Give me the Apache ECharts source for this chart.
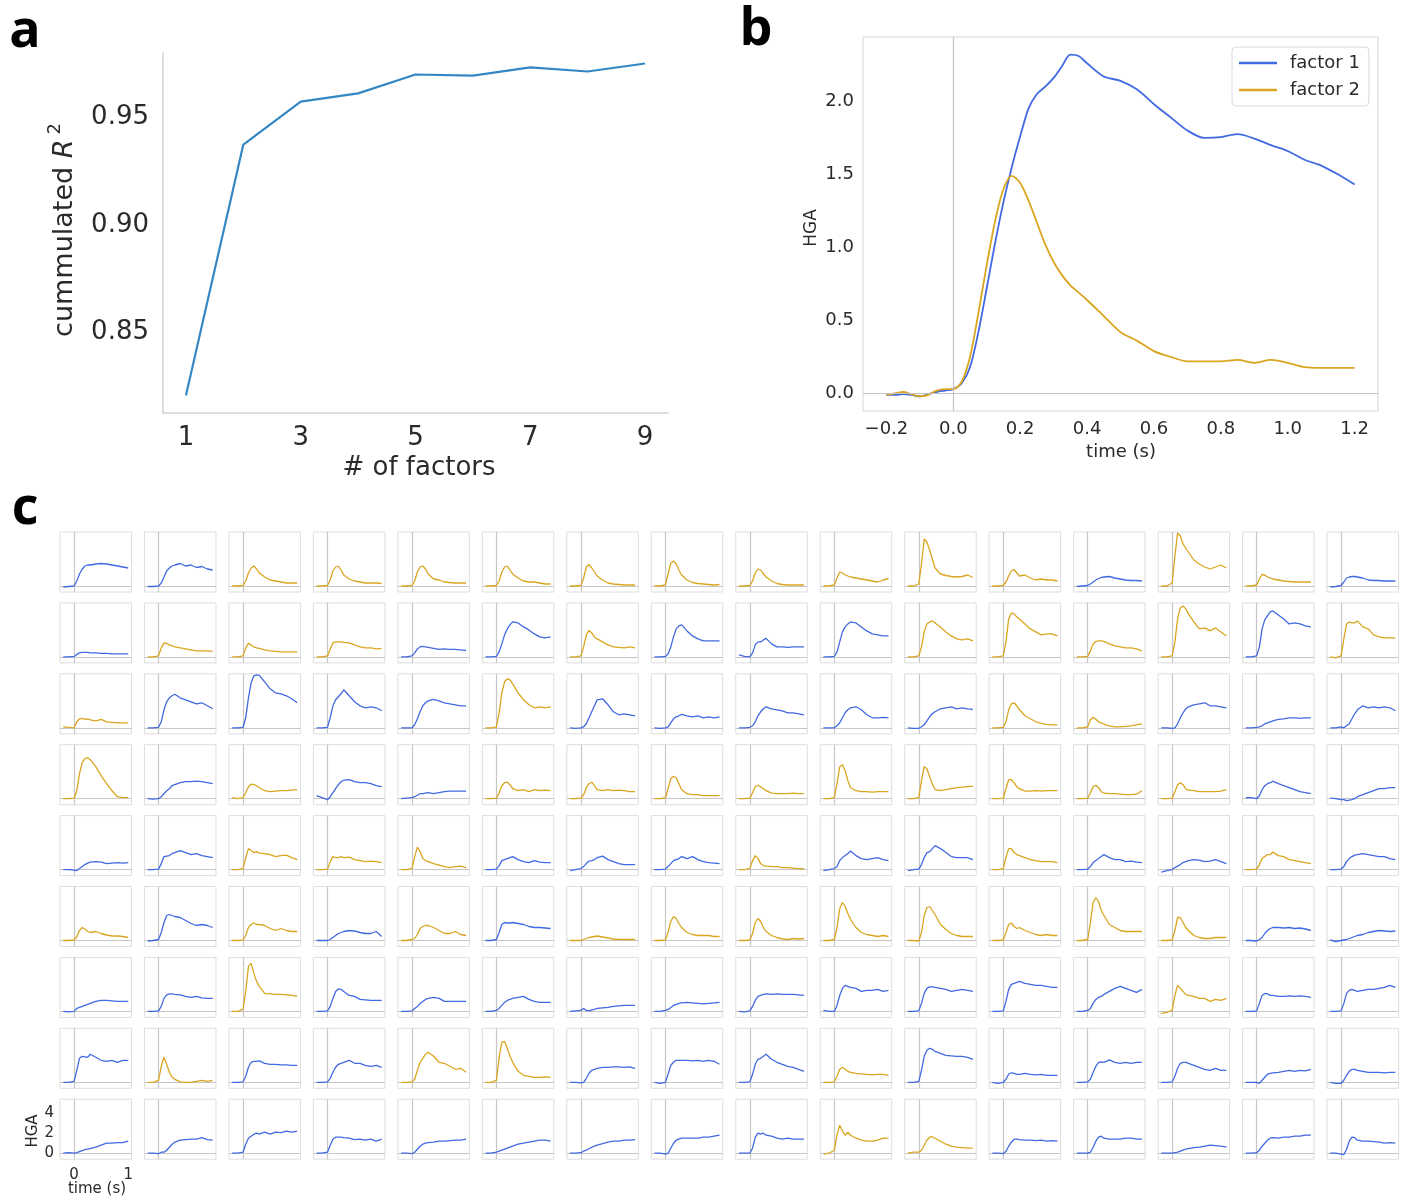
<!DOCTYPE html>
<html><head><meta charset="utf-8">
<script src="https://cdn.jsdelivr.net/npm/echarts@6/dist/echarts.min.js"></script>
<style>html,body{margin:0;padding:0;background:#fff}#c{width:1406px;height:1197px}</style>
</head><body><div id="c"></div>
<script>
// ---------- Panel a ----------
const nFactors = [1,2,3,4,5,6,7,8,9];
const cumR2 = [0.8207,0.9374,0.9574,0.9612,0.9700,0.9695,0.9733,0.9714,0.9751];
const aXTicks = [1,3,5,7,9];
const aYTicks = [0.85,0.90,0.95];

// ---------- Panel b ----------
const bTime = [-0.2,-0.175,-0.15,-0.125,-0.1,-0.075,-0.05,-0.025,0,0.025,0.05,0.075,0.1,0.125,0.15,0.175,0.2,0.225,0.25,0.275,0.3,0.325,0.35,0.375,0.4,0.45,0.5,0.55,0.6,0.65,0.7,0.75,0.8,0.85,0.9,0.95,1.0,1.05,1.1,1.15,1.2];
const factor1 = [-0.01,-0.01,-0.005,-0.01,-0.02,-0.005,0.01,0.02,0.03,0.07,0.18,0.42,0.72,1.03,1.31,1.55,1.76,1.95,2.05,2.10,2.16,2.24,2.32,2.31,2.26,2.17,2.14,2.08,1.98,1.89,1.80,1.75,1.755,1.775,1.745,1.70,1.66,1.60,1.56,1.50,1.43];
const factor2 = [-0.01,0.0,0.01,-0.005,-0.02,-0.01,0.02,0.03,0.03,0.08,0.25,0.55,0.88,1.18,1.40,1.49,1.44,1.32,1.17,1.02,0.90,0.81,0.74,0.69,0.64,0.53,0.42,0.36,0.29,0.25,0.22,0.22,0.22,0.23,0.21,0.23,0.21,0.18,0.175,0.175,0.175];
const bXTicks = [-0.2,0,0.2,0.4,0.6,0.8,1.0,1.2];
const bYTicks = [0,0.5,1.0,1.5,2.0];

// ---------- Panel c (9 rows x 16 electrodes) ----------
const cTime = [-0.2,-0.1,0,0.05,0.1,0.15,0.2,0.25,0.3,0.4,0.5,0.6,0.7,0.8,0.9,1.0];
const cXTicks = [0,1];
const cYTicks = [0,2,4];

const row1Colors = "b b o o o o o o o o o o b o o b";
const row1 = [
[-0.1,-0.05,0.0,0.5,1.2,1.7,2.0,2.1,2.1,2.2,2.25,2.2,2.1,2.0,1.9,1.8],
[-0.05,-0.05,0.0,0.3,0.9,1.5,1.8,2.0,2.1,2.25,2.0,2.1,1.85,1.95,1.7,1.6],
[0,0,0.05,0.5,1.3,1.8,2.0,1.7,1.3,0.9,0.6,0.5,0.4,0.3,0.3,0.3],
[0,0,0.05,0.6,1.5,1.9,2.0,1.6,1.1,0.7,0.5,0.4,0.3,0.3,0.3,0.25],
[0,0,0.05,0.5,1.4,1.9,2.0,1.7,1.2,0.7,0.6,0.4,0.35,0.3,0.3,0.3],
[0,0,0.05,0.5,1.4,1.9,2.0,1.6,1.2,0.8,0.5,0.4,0.4,0.3,0.2,0.2],
[0,0,0.05,0.8,1.9,2.15,1.8,1.4,1.0,0.6,0.3,0.2,0.15,0.1,0.1,0.1],
[0,0,0.1,1.2,2.3,2.5,2.2,1.6,1.1,0.6,0.35,0.25,0.2,0.15,0.1,0.15],
[0,0,0.05,0.5,1.3,1.7,1.6,1.2,0.9,0.5,0.25,0.15,0.1,0.1,0.1,0.1],
[0,0,0.1,0.8,1.4,1.3,1.1,1.0,0.9,0.8,0.7,0.6,0.5,0.4,0.6,0.75],
[0,0,0.2,2.2,4.7,4.4,3.6,2.7,1.8,1.2,1.05,0.95,0.9,0.95,1.1,0.85],
[0,0,0.05,0.4,1.0,1.5,1.65,1.3,1.0,1.1,0.8,0.6,0.7,0.6,0.6,0.5],
[-0.05,0,0.05,0.2,0.4,0.6,0.75,0.85,0.9,0.95,0.8,0.7,0.6,0.55,0.55,0.5],
[0,0,0.3,3.0,5.3,5.0,4.2,3.8,3.4,2.6,2.2,1.9,1.7,1.9,2.1,1.8],
[0,0,0.1,0.7,1.15,1.1,0.9,0.8,0.7,0.6,0.5,0.45,0.4,0.4,0.4,0.4],
[-0.1,-0.05,0.05,0.4,0.8,0.9,0.95,0.95,0.9,0.8,0.6,0.55,0.55,0.5,0.5,0.5]
];
const row2Colors = "b o o o b b o b b b o o o o b o";
const row2 = [
[0,0,0.05,0.25,0.4,0.45,0.45,0.45,0.4,0.4,0.35,0.35,0.3,0.3,0.3,0.3],
[0,0,0.1,0.9,1.4,1.35,1.2,1.1,1.0,0.9,0.8,0.7,0.6,0.6,0.6,0.55],
[0,0,0.1,0.9,1.35,1.2,1.0,0.9,0.85,0.7,0.6,0.55,0.5,0.5,0.5,0.5],
[0,0,0.1,0.8,1.4,1.5,1.5,1.5,1.45,1.4,1.2,1.0,0.9,0.9,0.8,0.85],
[0,0,0.1,0.4,0.8,1.0,1.05,1.0,0.95,0.85,0.75,0.8,0.75,0.75,0.7,0.65],
[0,0,0.05,0.5,1.3,2.2,2.8,3.2,3.5,3.4,3.0,2.7,2.3,2.0,1.9,2.0],
[0,0,0.1,1.0,2.2,2.65,2.4,2.0,1.8,1.5,1.2,1.0,0.95,0.9,1.0,0.9],
[0,0,0.05,0.3,1.0,2.0,2.8,3.1,3.2,2.6,2.1,1.8,1.6,1.6,1.6,1.6],
[0.2,0.05,0.0,0.4,1.2,1.5,1.5,1.7,1.85,1.3,1.0,1.0,0.95,1.0,1.0,1.0],
[0,0,0.05,0.5,1.5,2.5,3.0,3.3,3.5,3.4,3.0,2.6,2.3,2.2,2.1,2.1],
[0,0,0.1,1.0,2.5,3.3,3.5,3.6,3.4,3.0,2.5,2.1,1.8,1.7,1.8,1.6],
[0,0,0.1,1.5,3.8,4.4,4.3,4.0,3.8,3.3,2.8,2.5,2.2,2.3,2.3,2.1],
[0,0,0.05,0.6,1.3,1.55,1.6,1.6,1.55,1.3,1.1,1.0,0.9,0.9,0.8,0.6],
[0,0,0.1,1.5,3.8,4.9,5.1,4.8,4.3,3.5,2.8,2.9,2.6,2.9,2.5,2.1],
[0,0,0.1,1.0,2.8,3.7,4.1,4.5,4.6,4.2,3.8,3.3,3.4,3.3,3.1,3.0],
[0,-0.1,0.1,1.8,3.3,3.5,3.4,3.4,3.6,3.0,2.8,2.2,2.0,1.9,1.9,1.9]
];
const row3Colors = "o b b b b o b b b b b o o b b b";
const row3 = [
[0.1,0.05,0.0,0.6,0.9,0.95,0.85,0.9,0.8,0.7,0.85,0.6,0.55,0.5,0.5,0.5],
[0,0,0.05,0.6,1.8,2.6,3.0,3.2,3.35,3.0,2.8,2.6,2.4,2.5,2.2,1.9],
[0,0,0.05,1.0,3.0,4.5,5.2,5.3,5.25,4.6,3.9,3.5,3.4,3.2,2.9,2.5],
[0,0,0.05,1.0,2.2,2.8,3.1,3.4,3.8,3.2,2.6,2.2,2.0,2.1,2.0,1.7],
[0,0,0.0,0.3,0.9,1.6,2.2,2.5,2.7,2.85,2.7,2.5,2.4,2.3,2.2,2.2],
[0,0,0.1,1.5,3.5,4.6,4.9,4.8,4.4,3.5,2.8,2.3,2.0,2.1,2.0,2.1],
[0,-0.05,0.0,0.1,0.4,1.0,1.6,2.2,2.8,2.9,2.3,1.6,1.3,1.4,1.3,1.2],
[0,-0.05,0.0,0.1,0.5,0.9,1.1,1.2,1.35,1.2,1.1,1.2,1.0,1.1,1.0,1.1],
[0,0,0.05,0.2,0.6,1.2,1.6,1.9,2.1,1.9,1.8,1.7,1.5,1.5,1.4,1.3],
[0,0,0.0,0.2,0.5,1.0,1.5,1.8,2.0,2.1,1.8,1.3,1.0,1.0,1.05,1.0],
[0,-0.05,-0.05,0.1,0.3,0.7,1.1,1.4,1.6,1.9,2.0,2.1,1.9,2.0,1.9,1.85],
[0,0,0.05,0.6,1.8,2.4,2.5,2.2,1.8,1.2,0.9,0.6,0.45,0.35,0.3,0.3],
[0,0,0.1,0.8,1.05,0.85,0.6,0.5,0.35,0.2,0.1,0.1,0.15,0.2,0.3,0.4],
[0,0,-0.05,0.0,0.4,1.0,1.5,1.9,2.1,2.3,2.4,2.5,2.2,2.2,2.1,2.0],
[0,0,0.05,0.1,0.2,0.4,0.5,0.6,0.7,0.85,0.9,1.0,1.0,0.95,1.0,1.0],
[0,0,0.1,0.0,0.2,0.4,0.9,1.4,1.8,2.2,2.0,2.1,2.0,2.1,2.0,1.7]
];
const row4Colors = "o b o b b o o o o o o o o o b b";
const row4 = [
[0,0,0.05,0.8,2.5,3.6,4.0,4.1,3.9,3.2,2.3,1.5,0.8,0.2,0.1,0.1],
[0,-0.05,0.0,0.2,0.5,0.8,1.0,1.3,1.4,1.6,1.7,1.7,1.75,1.7,1.6,1.5],
[0.1,0.0,0.1,0.6,1.2,1.45,1.4,1.3,1.1,0.8,0.7,0.75,0.8,0.8,0.85,0.9],
[0.3,0.1,-0.1,0.2,0.6,1.0,1.4,1.7,1.85,1.9,1.7,1.6,1.6,1.5,1.3,1.2],
[0,0.05,0.1,0.2,0.35,0.5,0.5,0.55,0.6,0.5,0.6,0.7,0.75,0.75,0.75,0.75],
[0,0,0.05,0.6,1.3,1.6,1.65,1.4,1.0,0.8,0.9,0.7,0.9,0.8,0.85,0.8],
[0,0,0.05,0.4,1.1,1.5,1.65,1.3,0.9,0.8,0.9,0.8,0.85,0.8,0.7,0.7],
[0,0,0.1,1.0,2.0,2.25,2.1,1.5,0.9,0.5,0.4,0.4,0.3,0.3,0.3,0.3],
[0,0,0.05,0.6,1.2,1.35,1.2,1.0,0.8,0.55,0.5,0.5,0.5,0.55,0.5,0.5],
[0,0,0.1,1.5,3.2,3.4,2.8,1.8,1.1,0.8,0.7,0.7,0.65,0.7,0.7,0.7],
[0,0,0.1,1.8,3.2,3.0,2.2,1.5,0.9,0.8,0.9,1.0,1.1,1.15,1.2,1.25],
[0,0,0.05,1.0,1.9,1.9,1.6,1.2,1.0,0.75,0.75,0.8,0.75,0.8,0.8,0.8],
[0,0,0.05,0.6,1.2,1.35,1.1,0.7,0.55,0.5,0.5,0.45,0.4,0.4,0.45,0.8],
[0,0,0.05,0.7,1.4,1.6,1.4,1.0,0.85,0.8,0.7,0.7,0.7,0.7,0.75,0.9],
[0.1,0.1,0.0,0.3,0.9,1.3,1.5,1.6,1.75,1.5,1.3,1.1,0.9,0.7,0.6,0.5],
[0.05,0.0,-0.1,-0.1,-0.2,-0.15,-0.1,0.0,0.2,0.4,0.6,0.8,1.0,1.0,1.1,1.1]
];
const row5Colors = "b b o o o b b b o b b o b b o b";
const row5 = [
[0,0,-0.05,-0.1,0.1,0.3,0.5,0.65,0.75,0.8,0.75,0.6,0.65,0.7,0.65,0.7],
[0,0,0.05,0.6,1.3,1.35,1.4,1.6,1.7,1.9,1.7,1.5,1.6,1.4,1.3,1.2],
[0,0,0.1,1.2,2.1,1.9,1.7,1.8,1.65,1.6,1.5,1.3,1.4,1.45,1.2,1.0],
[0,0,0.05,0.8,1.3,1.2,1.2,1.3,1.2,1.25,1.0,0.9,0.8,0.85,0.8,0.7],
[0,0,0.1,1.3,2.25,1.8,1.1,0.9,0.8,0.6,0.45,0.3,0.2,0.3,0.35,0.2],
[0,0,0.05,0.4,0.9,1.0,1.1,1.2,1.3,1.0,0.8,0.7,0.9,0.75,0.7,0.7],
[-0.1,0.0,0.1,0.3,0.6,0.85,0.9,1.0,1.2,1.35,1.0,0.8,0.6,0.5,0.5,0.5],
[0,0,0.05,0.3,0.6,0.9,1.0,1.1,1.3,1.1,1.3,1.0,0.8,0.7,0.65,0.6],
[0,0,0.1,0.9,1.4,1.1,0.6,0.4,0.35,0.3,0.3,0.2,0.2,0.15,0.1,0.1],
[-0.1,0.0,0.1,0.3,0.9,1.2,1.4,1.6,1.85,1.4,1.1,1.0,1.1,1.2,1.0,0.9],
[-0.1,0.0,0.05,0.5,1.2,1.7,1.8,2.1,2.4,2.1,1.7,1.3,1.2,1.2,1.2,1.0],
[0,0,0.1,1.2,2.1,2.1,1.7,1.5,1.4,1.2,1.0,0.9,0.8,0.8,0.8,0.7],
[0,0,0.05,0.3,0.7,0.9,1.1,1.3,1.5,1.2,1.0,1.0,0.8,0.85,0.75,0.7],
[-0.25,-0.1,0.0,0.2,0.35,0.5,0.7,0.8,0.9,1.0,0.95,0.8,0.85,1.0,0.8,0.6],
[0,0,0.05,0.5,1.1,1.3,1.5,1.5,1.75,1.4,1.3,1.0,0.9,0.8,0.7,0.6],
[0,0,0.05,0.3,0.8,1.1,1.3,1.45,1.5,1.6,1.5,1.4,1.3,1.3,1.1,1.0]
];
const row6Colors = "o b o b o b o o o o o o o o b b";
const row6 = [
[0,0,0.05,0.4,1.0,1.3,1.15,0.9,0.8,0.9,0.7,0.55,0.45,0.45,0.4,0.3],
[-0.05,0.0,0.1,0.8,1.8,2.5,2.6,2.5,2.4,2.3,2.0,1.7,1.5,1.6,1.5,1.3],
[0,0,0.05,0.5,1.3,1.6,1.75,1.6,1.6,1.5,1.2,1.0,1.2,1.0,0.9,0.9],
[0,0,0.0,0.1,0.3,0.5,0.7,0.8,0.9,1.0,0.95,0.8,0.7,0.7,0.9,0.4],
[0,0,0.1,0.2,0.6,1.2,1.4,1.5,1.5,1.3,1.0,0.7,0.7,0.9,0.6,0.5],
[0,0,0.1,0.8,1.6,1.8,1.75,1.75,1.8,1.7,1.6,1.4,1.3,1.3,1.25,1.2],
[0,0,0.0,0.1,0.2,0.3,0.35,0.4,0.45,0.35,0.25,0.15,0.1,0.1,0.1,0.1],
[0,0,0.05,0.8,1.9,2.4,2.2,1.7,1.3,0.8,0.6,0.5,0.5,0.5,0.4,0.4],
[0,0,0.05,0.7,1.8,2.2,1.9,1.3,0.9,0.5,0.3,0.15,0.1,0.2,0.15,0.2],
[0,0,0.1,1.3,3.2,3.8,3.4,2.7,2.1,1.3,0.8,0.6,0.5,0.4,0.5,0.4],
[0,0,-0.05,0.8,2.5,3.3,3.4,3.0,2.6,1.6,1.1,0.7,0.5,0.4,0.4,0.4],
[0,0,0.05,0.8,1.6,1.75,1.4,1.2,1.3,1.0,0.8,0.6,0.5,0.6,0.5,0.5],
[0,0,0.1,1.8,3.8,4.3,3.9,3.0,2.5,1.6,1.3,1.0,0.9,0.9,0.9,0.9],
[0,0,0.05,1.0,2.3,2.3,1.8,1.3,1.0,0.5,0.3,0.2,0.2,0.3,0.3,0.3],
[0,0,-0.05,0.1,0.3,0.7,1.0,1.2,1.3,1.3,1.25,1.3,1.2,1.25,1.15,1.0],
[0.05,-0.1,0.0,0.05,0.1,0.2,0.3,0.4,0.5,0.6,0.8,0.9,1.0,0.95,0.9,0.95]
];
const row7Colors = "b b o b b b b b b b b b b o b b";
const row7 = [
[0,-0.05,0.0,0.3,0.4,0.5,0.6,0.7,0.8,1.0,1.1,1.1,1.05,1.0,1.0,1.0],
[0,0,0.05,0.5,1.3,1.65,1.75,1.75,1.7,1.65,1.5,1.4,1.5,1.35,1.3,1.3],
[0,0,0.2,2.0,4.5,4.8,3.8,3.0,2.5,1.8,1.75,1.7,1.7,1.65,1.6,1.5],
[0,0,0.05,0.5,1.3,2.0,2.25,2.2,2.0,1.6,1.5,1.2,1.15,1.1,1.1,1.1],
[0,0,0.05,0.3,0.5,0.8,1.0,1.2,1.3,1.4,1.3,1.0,1.0,1.0,1.0,1.0],
[0,0,0.1,0.3,0.6,0.9,1.1,1.2,1.3,1.4,1.5,1.2,1.0,0.9,0.9,0.9],
[0,0.05,0.1,0.3,0.1,0.05,0.15,0.2,0.3,0.35,0.4,0.5,0.55,0.6,0.6,0.6],
[0,0,0.1,0.2,0.4,0.6,0.7,0.8,0.85,0.9,0.85,0.8,0.75,0.8,0.85,0.9],
[0,-0.05,0.05,0.5,1.1,1.5,1.6,1.7,1.75,1.7,1.75,1.7,1.7,1.7,1.65,1.6],
[0.1,0.0,0.0,0.6,1.6,2.3,2.6,2.5,2.4,2.3,2.0,2.1,2.1,2.2,2.0,2.1],
[0,0,0.05,0.8,1.8,2.3,2.45,2.45,2.4,2.3,2.2,2.0,2.1,2.2,2.1,2.0],
[0,0,0.05,1.0,2.2,2.7,2.8,2.9,3.0,2.8,2.7,2.6,2.6,2.5,2.4,2.4],
[0,0,0.1,0.3,0.8,1.2,1.4,1.5,1.7,2.0,2.3,2.5,2.3,2.1,1.9,2.2],
[-0.2,-0.1,0.1,1.6,2.6,2.3,2.0,1.7,1.6,1.5,1.3,1.3,1.0,1.2,1.1,1.3],
[0,0,0.05,0.8,1.6,1.8,1.75,1.6,1.6,1.5,1.5,1.55,1.5,1.55,1.5,1.4],
[0,0,0.05,0.8,1.8,2.1,2.2,2.1,2.0,2.1,2.2,2.2,2.3,2.4,2.6,2.4]
];
const row8Colors = "b o b b o o b b b o b b b b b b";
const row8 = [
[0,0,0.1,1.2,2.4,2.6,2.55,2.5,2.8,2.5,2.2,2.1,2.2,2.0,2.2,2.2],
[0,0,0.2,1.6,2.5,1.8,1.0,0.5,0.3,0.05,0.0,0.0,0.1,0.2,0.1,0.2],
[0,0,0.05,0.6,1.5,2.0,2.1,2.1,2.15,1.9,1.8,1.8,1.75,1.75,1.7,1.7],
[0,0,0.05,0.4,1.0,1.5,1.8,1.9,2.0,2.2,1.9,1.9,1.7,1.6,1.7,1.5],
[0,0,0.05,0.3,1.2,2.0,2.4,2.8,3.0,2.6,2.0,1.9,1.6,1.3,1.4,1.0],
[0,0,0.2,2.5,4.0,4.1,3.4,2.6,2.0,1.1,0.7,0.6,0.5,0.5,0.55,0.5],
[0,0,-0.05,0.0,0.4,0.9,1.2,1.3,1.4,1.5,1.5,1.55,1.55,1.5,1.55,1.4],
[0,-0.1,0.0,0.8,1.7,2.0,2.2,2.2,2.2,2.2,2.15,2.2,2.1,2.2,2.1,1.8],
[0,0,0.05,0.8,1.8,2.3,2.4,2.6,2.8,2.3,2.0,1.8,1.6,1.5,1.3,1.1],
[0,0,0.05,0.6,1.3,1.5,1.3,1.1,1.0,0.9,0.85,0.8,0.75,0.8,0.8,0.7],
[0,0,0.1,1.2,2.6,3.2,3.4,3.3,3.1,2.9,2.7,2.65,2.6,2.6,2.5,2.3],
[0,-0.1,0.0,0.3,0.8,0.95,0.9,0.8,0.8,0.9,0.8,0.75,0.8,0.7,0.7,0.7],
[0,0,0.05,0.3,1.0,1.6,2.0,2.05,2.0,2.25,2.0,1.9,2.0,1.9,2.0,2.0],
[0,0,0.05,0.6,1.4,1.9,2.0,2.0,1.9,1.7,1.5,1.3,1.2,1.4,1.2,1.2],
[0,0,0.0,-0.1,0.2,0.5,0.8,0.9,0.95,1.0,1.1,1.2,1.1,1.2,1.15,1.3],
[0,-0.1,-0.1,0.2,0.7,1.1,1.3,1.3,1.2,1.1,1.0,1.0,1.0,0.95,1.0,1.0]
];
const row9Colors = "b b b b b b b b b o o b b b b b";
const row9 = [
[0,0.05,0.0,0.05,0.15,0.25,0.35,0.4,0.45,0.6,0.8,1.0,1.0,1.05,1.05,1.2],
[0,0,-0.05,0.1,0.1,0.3,0.6,0.9,1.1,1.3,1.35,1.4,1.4,1.55,1.35,1.3],
[0,0,0.1,0.9,1.5,1.7,1.9,2.0,1.9,2.1,1.9,2.1,2.05,2.2,2.1,2.2],
[0,0,0.1,0.8,1.4,1.6,1.6,1.6,1.55,1.5,1.35,1.4,1.3,1.4,1.2,1.4],
[0,0,-0.05,0.1,0.4,0.7,0.9,1.0,1.05,1.1,1.2,1.2,1.25,1.3,1.3,1.4],
[0,0,0.1,0.2,0.3,0.4,0.5,0.6,0.7,0.9,1.0,1.1,1.2,1.3,1.3,1.2],
[0,0,0.05,0.2,0.3,0.45,0.6,0.7,0.8,0.95,1.1,1.2,1.2,1.3,1.3,1.35],
[0,0,-0.1,0.0,0.5,1.0,1.3,1.4,1.5,1.5,1.5,1.5,1.6,1.6,1.7,1.8],
[0,0,0.0,0.5,1.6,2.0,1.9,2.0,1.8,1.7,1.5,1.4,1.5,1.4,1.4,1.4],
[-0.1,0.0,0.3,1.8,2.8,2.2,1.8,2.1,1.8,1.5,1.3,1.2,1.2,1.3,1.5,1.5],
[0,0.1,0.1,0.3,0.8,1.3,1.6,1.65,1.5,1.2,0.9,0.7,0.6,0.55,0.5,0.5],
[0,0,-0.05,0.2,0.7,1.1,1.4,1.4,1.35,1.3,1.3,1.25,1.3,1.2,1.25,1.2],
[0,0,0.0,0.1,0.6,1.2,1.6,1.7,1.5,1.4,1.4,1.4,1.5,1.5,1.4,1.4],
[0,0,0.0,0.05,0.1,0.2,0.3,0.4,0.45,0.55,0.6,0.7,0.8,0.75,0.7,0.6],
[0,0,0.05,0.3,0.7,1.0,1.3,1.5,1.55,1.5,1.6,1.6,1.7,1.7,1.8,1.8],
[0,0,-0.1,-0.15,0.4,1.2,1.6,1.55,1.3,1.2,1.2,1.15,1.1,1.0,1.05,1.0]
];

const cRows = [row1,row2,row3,row4,row5,row6,row7,row8,row9];
const cRowColors = [row1Colors,row2Colors,row3Colors,row4Colors,row5Colors,row6Colors,row7Colors,row8Colors,row9Colors];

// ---------- build ----------
const FONT = 'DejaVu Sans';
const TXT = '#2a2a2a';
const BLUE = '#4169e1', GOLD = '#daa520';
const grid = [], xAxis = [], yAxis = [], series = [];
function addGrid(g){ grid.push(Object.assign({containLabel:false, outerBoundsMode:'none'}, g)); return grid.length - 1; }
const hidden = {show:false};

// panel a
let gi = addGrid({left:163, top:53, width:505, height:360, show:false});
xAxis.push({type:'value', gridIndex:gi, min:0.6, max:9.4,
  axisLine:{show:true, onZero:false, lineStyle:{color:'#d2d2d2', width:1.5}}, axisTick:hidden, splitLine:hidden,
  axisLabel:{customValues:aXTicks, fontSize:26, color:TXT, fontFamily:FONT, margin:12}});
yAxis.push({type:'value', gridIndex:gi, min:0.8125, max:0.98,
  axisLine:{show:true, onZero:false, lineStyle:{color:'#d2d2d2', width:1.5}}, axisTick:hidden, splitLine:hidden,
  axisLabel:{customValues:aYTicks, formatter:v=>v.toFixed(2), fontSize:26, color:TXT, fontFamily:FONT, margin:14}});
series.push({type:'line', name:'cumR2', xAxisIndex:gi, yAxisIndex:gi, data:nFactors.map((x,i)=>[x,cumR2[i]]),
  showSymbol:false, symbol:'none', lineStyle:{color:'#3587c4', width:2.2}, itemStyle:{color:'#3587c4'}, silent:true});

// panel b
gi = addGrid({left:863, top:37, width:515, height:374, show:true, borderColor:'#d6d6d6', borderWidth:1});
const minus = s => s.replace('-', '\u2212');
xAxis.push({type:'value', gridIndex:gi, min:-0.27, max:1.27,
  axisLine:hidden, axisTick:hidden, splitLine:hidden,
  axisLabel:{customValues:bXTicks, formatter:v=>minus(v.toFixed(1)), fontSize:18, color:TXT, fontFamily:FONT, margin:9}});
yAxis.push({type:'value', gridIndex:gi, min:-0.12, max:2.44,
  axisLine:hidden, axisTick:hidden, splitLine:hidden,
  axisLabel:{customValues:bYTicks, formatter:v=>v.toFixed(1), fontSize:18, color:TXT, fontFamily:FONT, margin:9}});
series.push({type:'line', name:'zero-b', xAxisIndex:gi, yAxisIndex:gi, data:[[0,0]], symbol:'none', lineStyle:{opacity:0}, silent:true,
  markLine:{silent:true, symbol:['none','none'], label:{show:false}, lineStyle:{color:'#c4c4c4', width:1.2, type:'solid'},
    data:[{xAxis:0},{yAxis:0}]}});
series.push({type:'line', name:'factor 1', xAxisIndex:gi, yAxisIndex:gi, data:bTime.map((t,i)=>[t,factor1[i]]),
  showSymbol:false, symbol:'none', smooth:0.3, lineStyle:{color:BLUE, width:1.8}, itemStyle:{color:BLUE}, silent:true});
series.push({type:'line', name:'factor 2', xAxisIndex:gi, yAxisIndex:gi, data:bTime.map((t,i)=>[t,factor2[i]]),
  showSymbol:false, symbol:'none', smooth:0.3, lineStyle:{color:GOLD, width:1.8}, itemStyle:{color:GOLD}, silent:true});

// panel c
const colPitch = 84.47, rowPitch = 70.9;
cRows.forEach((row, r) => {
  const cols = cRowColors[r].split(' ');
  row.forEach((vals, c) => {
    const left = 60 + c*colPitch, top = 532 + r*rowPitch;
    const g = addGrid({left:left, top:top, width:71.5, height:60, show:true, borderColor:'#dedede', borderWidth:1});
    const lab = (r === 8 && c === 0);
    xAxis.push({type:'value', gridIndex:g, min:-0.26, max:1.06, axisLine:hidden, axisTick:hidden, splitLine:hidden,
      axisLabel: lab ? {customValues:cXTicks, fontSize:15, color:TXT, fontFamily:FONT, margin:8} : hidden});
    yAxis.push({type:'value', gridIndex:g, min:-0.6, max:5.4, axisLine:hidden, axisTick:hidden, splitLine:hidden,
      axisLabel: lab ? {customValues:cYTicks, fontSize:15, color:TXT, fontFamily:FONT, margin:6} : hidden});
    const col = cols[c] === 'b' ? BLUE : GOLD;
    series.push({type:'line', xAxisIndex:g, yAxisIndex:g, data:cTime.map((t,i)=>[t,vals[i]]),
      showSymbol:false, symbol:'none', lineStyle:{color:col, width:1.3}, itemStyle:{color:col}, silent:true, z:3,
      markLine:{silent:true, symbol:['none','none'], label:{show:false}, z:2,
        lineStyle:{color:'#c6c6c6', width:1.2, type:'solid'}, data:[{xAxis:0},{yAxis:0}]}});
  });
});

const txt = (x,y,text,size,extra) => Object.assign({type:'text', x:x, y:y, silent:true,
  style:{text:text, fontSize:size, fontFamily:FONT, fill:TXT, align:'center', verticalAlign:'middle'}}, extra||{});
const letter = (x,y,t) => ({type:'text', x:x, y:y, silent:true,
  style:{text:t, fontSize:52, fontWeight:'bold', fontFamily:'Open Sans', fill:'#000', align:'center', verticalAlign:'middle'}});

const option = {
  animation:false,
  backgroundColor:'#fff',
  grid, xAxis, yAxis, series,
  legend:{show:true, left:1232, top:47, orient:'vertical', itemWidth:38, itemHeight:2.5, itemGap:9,
    padding:[7,9,7,7], backgroundColor:'#fff', borderColor:'#d9d9d9', borderWidth:1, borderRadius:4,
    selectedMode:false,
    textStyle:{fontSize:18, color:TXT, fontFamily:FONT, padding:[0,0,0,8]},
    data:[{name:'factor 1', icon:'rect'},{name:'factor 2', icon:'rect'}]},
  graphic:[
    letter(25,32,'a'), letter(756,30,'b'), letter(25,509,'c'),
    {type:'text', x:62, y:230, rotation:Math.PI/2, silent:true,
      style:{text:'{n|cummulated }{i|R}{s|2}', align:'center', verticalAlign:'middle',
        rich:{n:{fontSize:27, lineHeight:32, fontFamily:FONT, fill:TXT, verticalAlign:'bottom'},
              i:{fontSize:27, lineHeight:32, fontFamily:FONT, fontStyle:'italic', fill:TXT, verticalAlign:'bottom', padding:[0,5,0,0]},
              s:{fontSize:18, lineHeight:18, fontFamily:FONT, fill:TXT, verticalAlign:'top'}}}},
    txt(419,468,'# of factors',26),
    txt(812,228,'HGA',17,{rotation:Math.PI/2}),
    txt(1121,452,'time (s)',18),
    txt(33,1131,'HGA',15,{rotation:Math.PI/2}),
    txt(97,1189,'time (s)',15)
  ]
};
const chart = echarts.init(document.getElementById('c'), null, {renderer:'canvas', width:1406, height:1197});
chart.setOption(option);
</script>
</body></html>
